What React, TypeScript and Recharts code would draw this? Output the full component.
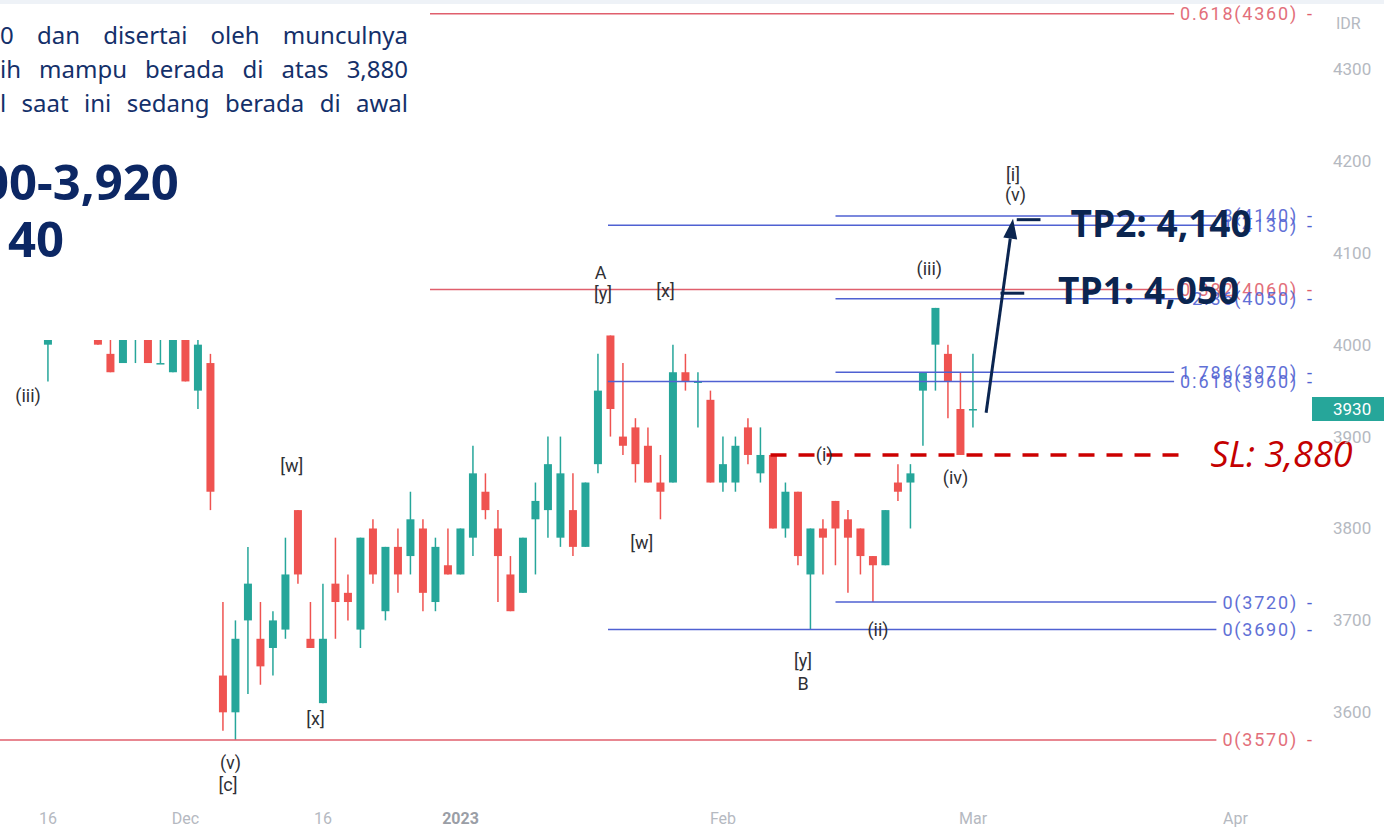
import { Bar, ComposedChart, ReferenceDot, ReferenceLine, Scatter, XAxis, YAxis } from "recharts";

const GREEN = "#26a69a";
const RED = "#ef5350";
const NAVY = "#0b2550";
const FIB_RED = "#e05f6d";
const FIB_BLUE = "#4f61d2";

// daily candles, mid-Nov 2022 to 1 Mar 2023 (first few sit behind the text box)
const opens = [4060, 4080, 4060, 4000, 4040, 4060, 4040, 4030, 3990, 3980, 4010, 4020, 3980, 3970, 4010, 3950, 3980, 3640, 3600, 3700, 3680, 3670, 3690, 3820, 3680, 3610, 3740, 3730, 3690, 3800, 3710, 3780, 3770, 3800, 3720, 3760, 3750, 3790, 3840, 3800, 3750, 3730, 3810, 3820, 3790, 3820, 3780, 3870, 4010, 3900, 3910, 3890, 3850, 3850, 3970, 3960, 3940, 3850, 3850, 3910, 3860, 3880, 3800, 3840, 3750, 3800, 3830, 3810, 3800, 3770, 3760, 3850, 3850, 3950, 4000, 3990, 3930, 3930];
const highs = [4090, 4100, 4080, 4060, 4070, 4080, 4060, 4040, 4020, 4020, 4020, 4030, 4010, 4020, 4020, 4010, 3990, 3720, 3700, 3780, 3720, 3710, 3790, 3820, 3720, 3740, 3790, 3750, 3790, 3810, 3780, 3800, 3840, 3810, 3790, 3800, 3800, 3890, 3860, 3820, 3770, 3790, 3850, 3900, 3900, 3860, 3850, 3990, 4010, 3980, 3920, 3910, 3880, 4000, 3990, 3970, 3950, 3900, 3900, 3920, 3910, 3880, 3850, 3840, 3800, 3810, 3830, 3820, 3800, 3770, 3820, 3870, 3870, 3970, 4040, 4000, 3970, 3990];
const lows = [4040, 4050, 4030, 3960, 4020, 4030, 4020, 4000, 3970, 3980, 3980, 3980, 3980, 3970, 3960, 3930, 3820, 3580, 3570, 3620, 3630, 3640, 3680, 3740, 3670, 3610, 3680, 3700, 3670, 3740, 3700, 3730, 3750, 3710, 3710, 3750, 3750, 3770, 3810, 3720, 3710, 3730, 3750, 3790, 3780, 3770, 3780, 3860, 3900, 3880, 3850, 3850, 3810, 3850, 3950, 3910, 3850, 3840, 3840, 3870, 3850, 3800, 3790, 3760, 3690, 3750, 3760, 3730, 3750, 3720, 3760, 3830, 3800, 3890, 3950, 3920, 3880, 3910];
const closes = [4080, 4060, 4050, 4040, 4060, 4040, 4030, 4000, 3970, 4010, 4010, 3980, 3980, 4010, 3960, 4000, 3840, 3600, 3680, 3740, 3650, 3700, 3750, 3750, 3670, 3680, 3720, 3720, 3790, 3750, 3780, 3750, 3810, 3730, 3780, 3750, 3800, 3860, 3820, 3770, 3710, 3790, 3830, 3870, 3860, 3780, 3850, 3950, 3930, 3890, 3870, 3850, 3840, 3970, 3960, 3960, 3850, 3870, 3890, 3880, 3880, 3800, 3840, 3770, 3800, 3790, 3800, 3790, 3770, 3760, 3820, 3840, 3860, 3970, 4040, 3960, 3880, 3930];

const dateTicks = [3, 14, 25, 36, 57, 77, 98];
const dateLabels = ["16", "Dec", "16", "2023", "Feb", "Mar", "Apr"];
const priceTicks = [3600, 3700, 3800, 3900, 4000, 4100, 4200, 4300];

// fibonacci levels
const fibPrices = [4360, 4060, 3570, 4140, 4130, 4050, 3970, 3960, 3720, 3690];
const fibNames = ["0.618", "0.382", "0", "3", "1", "2.36", "1.786", "0.618", "0", "0"];
const fibFrom = [-0.84, -0.84, -0.84, 66, 47.8, 66, 66, 47.8, 66, 47.8];
const fibIsRed = [true, true, true, false, false, false, false, false, false, false];

// elliott wave labels
const waveText = ["(iii)", "[w]", "[x]", "(v)", "[c]", "A", "[y]", "[x]", "[w]", "(i)", "(ii)", "[y]", "B", "(iii)", "(iv)", "[i]", "(v)"];
const waveIdx = [1.4, 22.5, 24.4, 17.6, 17.4, 47.2, 47.4, 52.4, 50.5, 65.1, 69.4, 63.4, 63.4, 73.5, 75.6, 80.2, 80.4];
const wavePrice = [3945, 3868, 3593, 3545, 3521, 4079, 4056, 4059, 3785, 3881, 3690, 3656, 3631, 4083, 3855, 4185, 4163];

// trade plan
const slPrice = 3880;
const slSpan = [60.8, 93.6];
const tpPrices = [4136, 4056];
const tpFrom = [80.5, 79.2];
const tpTo = [82.4, 81.1];
const planText = ["TP2: 4,140", "TP1: 4,050", "SL: 3,880"];
const planIdx = [84.8, 83.8, 96];
const planPrice = [4133, 4060, 3882];
const arrowFrom = { i: 78.05, p: 3926 };
const arrowTo = { i: 80.2, p: 4137 };
const lastPrice = 3930;

const X_MIN = -0.84;
const X_MAX = 104.12;
const Y_MIN = 3504.6;
const Y_MAX = 4375;
const PLOT_W = 1312;
const PX_PER_IDX = PLOT_W / (X_MAX - X_MIN);
const LABEL_END = (1298 - 10.5) / PX_PER_IDX;

const candles = opens.map((o, i) => ({
  i,
  open: o,
  high: highs[i],
  low: lows[i],
  close: closes[i],
  range: [lows[i], highs[i]],
}));

let ctx: CanvasRenderingContext2D | null = null;
function textWidth(s: string, font: string) {
  if (!ctx) {
    try {
      ctx = document.createElement("canvas").getContext("2d");
    } catch {
      ctx = null;
    }
  }
  if (!ctx) return s.length * 10;
  ctx.font = font;
  return ctx.measureText(s).width;
}

const fibs = fibPrices.map((p, k) => {
  const text = `${fibNames[k]}(${p})`;
  const w = textWidth(text, "18px Roboto") + text.length * 1.8;
  return {
    i: LABEL_END,
    p,
    text,
    from: fibFrom[k],
    to: LABEL_END - (w + 6) / PX_PER_IDX,
    color: fibIsRed[k] ? FIB_RED : FIB_BLUE,
  };
});

const waves = waveText.map((t, k) => ({ i: waveIdx[k], p: wavePrice[k], text: t }));

function Candle(props: any) {
  const { x, width, payload } = props;
  let { y, height } = props;
  if (height < 0) {
    y += height;
    height = -height;
  }
  const { open, close, high, low } = payload;
  const k = height / (high - low);
  const cx = x + width / 2;
  const yo = y + (high - open) * k;
  const yc = y + (high - close) * k;
  const color = close >= open ? GREEN : RED;
  const top = Math.min(yo, yc);
  const h = Math.max(1.5, Math.abs(yo - yc));
  return (
    <g>
      <line x1={cx} x2={cx} y1={y} y2={y + height} stroke={color} strokeWidth={1.5} />
      <rect x={cx - 4} y={top} width={8} height={h} fill={color} />
    </g>
  );
}

function WaveLabel({ cx, cy, payload }: any) {
  return (
    <text x={cx} y={cy} textAnchor="middle" dominantBaseline="central" fontSize={18} fontFamily="Roboto, sans-serif" fill="#2f3035">
      {payload.text}
    </text>
  );
}

function fibLabel(f: any) {
  return ({ cx, cy }: any) => (
    <g fontFamily="Roboto, sans-serif" fontSize={18} fill={f.color} style={{ letterSpacing: 1.8 }}>
      <text x={cx} y={cy} textAnchor="end" dominantBaseline="central" opacity={0.9}>
        {f.text}
      </text>
      <text x={cx + 9} y={cy} dominantBaseline="central">-</text>
    </g>
  );
}

function planLabel(text: string, sl: boolean) {
  return ({ cx, cy }: any) =>
    sl ? (
      <text x={cx} y={cy} dominantBaseline="central" fontSize={36} fontStyle="italic" fontFamily="'Open Sans', sans-serif" fill="#c40000">
        {text}
      </text>
    ) : (
      <text x={cx} y={cy} dominantBaseline="central" fontSize={37} fontWeight={700} fontFamily="'Open Sans', sans-serif" fill={NAVY}>
        {text}
      </text>
    );
}

function Arrow(props: any) {
  const { x1, y1, x2, y2 } = props;
  const a = Math.atan2(y2 - y1, x2 - x1);
  const len = 20;
  const half = 7;
  const bx = x2 - len * Math.cos(a);
  const by = y2 - len * Math.sin(a);
  const px = -Math.sin(a) * half;
  const py = Math.cos(a) * half;
  return (
    <g>
      <line x1={x1} y1={y1} x2={bx} y2={by} stroke={NAVY} strokeWidth={3} />
      <polygon points={`${x2},${y2} ${bx + px},${by + py} ${bx - px},${by - py}`} fill={NAVY} />
    </g>
  );
}

function DateTick({ x, y, payload }: any) {
  const label = dateLabels[dateTicks.indexOf(payload.value)];
  const bold = label === "2023";
  return (
    <text x={x} y={y} textAnchor="middle" dominantBaseline="central" fontSize={16} fontFamily="Roboto, sans-serif" fontWeight={bold ? 700 : 400} fill={bold ? "#9a9ea6" : "#b5b9c1"}>
      {label}
    </text>
  );
}

function PriceTick({ x, y, payload }: any) {
  return (
    <text x={x} y={y} dominantBaseline="central" fontSize={17} fontFamily="Roboto, sans-serif" fill="#b5b9c1">
      {payload.value}
    </text>
  );
}

export default function App() {
  const badgeTop = ((Y_MAX - lastPrice) / (Y_MAX - Y_MIN)) * 800 - 12;
  return (
    <div style={{ position: "fixed", left: 0, top: 0, width: 1384, height: 829, background: "#fff", overflow: "hidden" }}>
      <ComposedChart width={1384} height={829} data={candles} margin={{ top: 0, right: 0, bottom: 0, left: 0 }}>
        <XAxis
          dataKey="i"
          type="number"
          domain={[X_MIN, X_MAX]}
          allowDataOverflow
          ticks={dateTicks}
          interval={0}
          tick={<DateTick />}
          axisLine={false}
          tickLine={false}
          tickSize={0}
          tickMargin={18}
          height={29}
        />
        <YAxis
          dataKey="p"
          type="number"
          orientation="right"
          domain={[Y_MIN, Y_MAX]}
          allowDataOverflow
          ticks={priceTicks}
          interval={0}
          tick={<PriceTick />}
          axisLine={false}
          tickLine={false}
          tickSize={0}
          tickMargin={21}
          width={72}
        />
        <Bar dataKey="range" barSize={8} shape={Candle} isAnimationActive={false} />
        {fibs.map((f, k) => (
          <ReferenceLine
            key={"fib" + k}
            segment={[
              { x: f.from, y: f.p },
              { x: f.to, y: f.p },
            ]}
            stroke={f.color}
            strokeWidth={1.5}
            ifOverflow="visible"
          />
        ))}
        <ReferenceLine
          segment={[
            { x: slSpan[0], y: slPrice },
            { x: slSpan[1], y: slPrice },
          ]}
          stroke="#cc0000"
          strokeWidth={3.5}
          strokeDasharray="16 12"
          ifOverflow="visible"
        />
        {tpPrices.map((p, k) => (
          <ReferenceLine
            key={"tp" + k}
            segment={[
              { x: tpFrom[k], y: p },
              { x: tpTo[k], y: p },
            ]}
            stroke={NAVY}
            strokeWidth={3}
            ifOverflow="visible"
          />
        ))}
        <ReferenceLine
          segment={[
            { x: arrowFrom.i, y: arrowFrom.p },
            { x: arrowTo.i, y: arrowTo.p },
          ]}
          shape={Arrow}
          ifOverflow="visible"
        />
        {fibs.map((f, k) => (
          <ReferenceDot key={"fl" + k} x={f.i} y={f.p} r={0} shape={fibLabel(f)} ifOverflow="visible" />
        ))}
        <Scatter data={waves} shape={WaveLabel} isAnimationActive={false} />
        {planText.map((t, k) => (
          <ReferenceDot key={"pl" + k} x={planIdx[k]} y={planPrice[k]} r={0} shape={planLabel(t, k === 2)} ifOverflow="visible" />
        ))}
      </ComposedChart>

      <div style={{ position: "absolute", left: 0, top: 0, width: 1384, height: 4, background: "#eef2f7" }} />
      <div style={{ position: "absolute", left: 1336, top: 14, fontSize: 16, fontFamily: "Roboto, sans-serif", color: "#b5b9c1" }}>IDR</div>
      <div
        style={{
          position: "absolute",
          left: 1312,
          top: badgeTop,
          width: 72,
          height: 24,
          background: GREEN,
          color: "#fff",
          fontSize: 17,
          fontFamily: "Roboto, sans-serif",
          lineHeight: "24px",
          paddingLeft: 21,
          boxSizing: "border-box",
        }}
      >
        {lastPrice}
      </div>

      <div style={{ position: "absolute", left: 0, top: 4, width: 430, height: 336, background: "#fff", overflow: "hidden", fontFamily: "'Noto Sans', sans-serif", color: "#14306a" }}>
        {["0 dan disertai oleh munculnya", "ih mampu berada di atas 3,880", "l saat ini sedang berada di awal"].map((t, k) => (
          <div
            key={k}
            style={{ position: "absolute", left: 0, top: 14 + k * 34, width: 408, fontSize: 24, lineHeight: "34px", textAlign: "justify", textAlignLast: "justify" as any, whiteSpace: "nowrap" }}
          >
            {t}
          </div>
        ))}
        <div style={{ position: "absolute", left: -19, top: 145, fontSize: 49, fontWeight: 700, lineHeight: "64px", color: "#0c2764", whiteSpace: "nowrap" }}>00-3,920</div>
        <div style={{ position: "absolute", left: 8, top: 202, fontSize: 49, fontWeight: 700, lineHeight: "64px", color: "#0c2764", whiteSpace: "nowrap" }}>40</div>
      </div>
    </div>
  );
}
